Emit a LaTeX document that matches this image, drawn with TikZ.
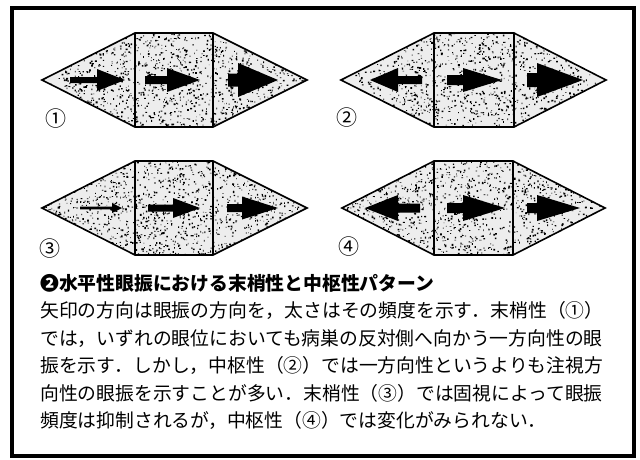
\documentclass[tikz,border=0pt]{standalone}
\usepackage{fontspec}
\setmainfont{Noto Sans CJK JP}
\tikzset{
 eyeline/.style={line width=1.6pt, line join=miter},
 arrowfill/.style={fill=black},
 speckbg/.style={fill=black!7},
 bodytext/.style={anchor=base west, inner sep=0pt, font=\fontsize{18.8}{20}\selectfont},
 titletext/.style={anchor=base west, inner sep=0pt, font=\fontsize{18.8}{20}\selectfont\bfseries},
 numlabel/.style={anchor=center, inner sep=0pt, font=\fontsize{21}{22}\selectfont},
 framebox/.style={line width=3.5pt}
}
% #1 L, #2 rx0, #3 rx1, #4 R, #5 top, #6 bottom, #7 cy
\newcommand\eyeshape[7]{%
 \begin{scope}
 \clip (#1,#7) -- (#2,#5) -- (#3,#5) -- (#4,#7) -- (#3,#6) -- (#2,#6) -- cycle;
 \fill[white] (#1,#5) rectangle (#4,#6);
 \fill[speckbg] (#1,#5) rectangle (#4,#6);
 \fill[black] \foreach \k in {1,...,1500}{ ({#1+(#4-#1)*rnd},{#5+(#6-#5)*rnd}) rectangle ++({0.5+1.4*rnd},{0.5+1.4*rnd}) };
 \end{scope}}
\newcommand\eyeoutline[7]{%
 \draw[eyeline] (#1,#7) -- (#2,#5) -- (#3,#5) -- (#4,#7) -- (#3,#6) -- (#2,#6) -- cycle;
 \draw[eyeline] (#2,#5) -- (#2,#6) (#3,#5) -- (#3,#6);}
% #1 tail x, #2 tip x, #3 head base x, #4 y, #5 shaft half, #6 head half
\newcommand\nysarrow[6]{%
 \fill[arrowfill] (#1,#4-#5) -- (#3,#4-#5) -- (#3,#4-#6) -- (#2,#4) -- (#3,#4+#6) -- (#3,#4+#5) -- (#1,#4+#5) -- cycle;}
\begin{document}
\begin{tikzpicture}[x=1pt,y=-1pt]
\useasboundingbox (0,0) rectangle (640,459);
\fill[white] (0,0) rectangle (640,459);
\pgfmathsetseed{4321}
% frame
\draw[framebox] (12,8) rectangle (634,456);
% eye 1
\eyeshape{42}{135}{213}{307}{33}{127}{80}
\nysarrow{70}{125}{97}{80}{3}{11}
\nysarrow{145}{200}{167}{80}{4}{12}
\nysarrow{228}{278}{238}{80}{6.5}{17}
\eyeoutline{42}{135}{213}{307}{33}{127}{80}
% eye 2
\eyeshape{341}{434}{514}{606}{33}{127}{80}
\nysarrow{422}{370}{398}{80}{4}{12}
\nysarrow{447}{502}{463}{80}{5}{12}
\nysarrow{527}{583}{537}{80}{7}{17}
\eyeoutline{341}{434}{514}{606}{33}{127}{80}
% eye 3
\eyeshape{42}{135}{213}{307}{161}{255}{208}
\nysarrow{80}{122}{112}{208}{1.3}{5}
\nysarrow{148}{200}{173}{208}{3.5}{10}
\nysarrow{227}{278}{242}{208}{4}{11.5}
\eyeoutline{42}{135}{213}{307}{161}{255}{208}
% eye 4
\eyeshape{342}{434}{513}{605}{161}{255}{208}
\nysarrow{420}{365}{398}{208}{4.5}{13}
\nysarrow{447}{505}{463}{208}{5}{13}
\nysarrow{527}{580}{537}{208}{5}{13}
\eyeoutline{342}{434}{513}{605}{161}{255}{208}
% labels
\node[numlabel] (n1) at (55.5,118.5) {①};
\node[numlabel] (n2) at (347,117.5) {②};
\node[numlabel] (n3) at (50,248.5) {③};
\node[numlabel] (n4) at (349,246.5) {④};
% text
\node[titletext] (title) at (40,290) {❷水平性眼振における末梢性と中枢性パターン};
\node[bodytext] (l1) at (40,317.5) {矢印の方向は眼振の方向を，太さはその頻度を示す．末梢性（①）};
\node[bodytext] (l2) at (40,345) {では，いずれの眼位においても病巣の反対側へ向かう一方向性の眼};
\node[bodytext] (l3) at (40,372.5) {振を示す．しかし，中枢性（②）では一方向性というよりも注視方};
\node[bodytext] (l4) at (40,400) {向性の眼振を示すことが多い．末梢性（③）では固視によって眼振};
\node[bodytext] (l5) at (40,427.5) {頻度は抑制されるが，中枢性（④）では変化がみられない．};
\end{tikzpicture}
\end{document}
